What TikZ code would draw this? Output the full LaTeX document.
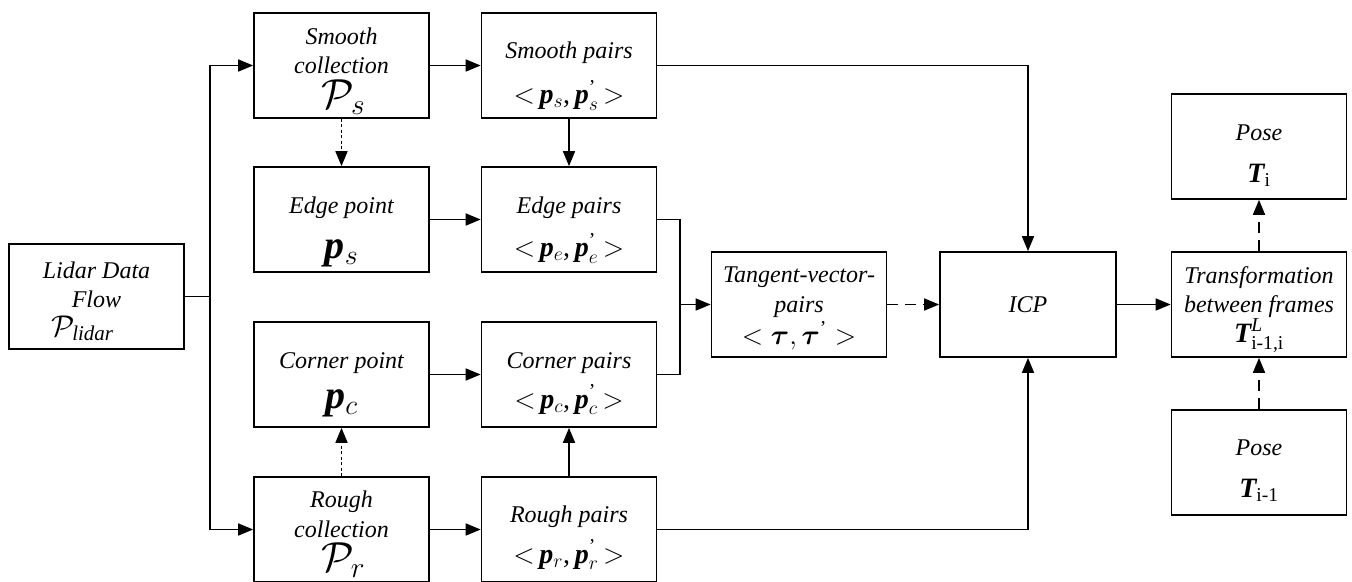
\RequirePackage{fix-cm}
\documentclass[tikz,border=0pt]{standalone}
\usepackage{amsmath,amssymb}
\usepackage{fontspec}
\setmainfont{Liberation Serif}
\usetikzlibrary{arrows.meta,calc}
\newcommand{\bpv}[1]{{\bfseries\itshape p}$_{#1}$}
\newcommand{\bpp}[1]{{\bfseries\itshape p}$^{\text{\upshape '}}_{#1}$}
\newcommand{\bT}{{\bfseries\itshape T}}
\tikzset{
  box/.style={draw, line width=1.7pt, minimum width=175pt, minimum height=105pt, inner sep=0pt},
  t/.style={anchor=base, inner sep=0pt, font=\fontsize{24}{29}\selectfont\itshape},
  pr/.style={anchor=base, inner sep=0pt, font=\fontsize{28}{30}\selectfont},
  big/.style={anchor=base, inner sep=0pt, font=\fontsize{40}{40}\selectfont},
  cal/.style={anchor=base, inner sep=0pt, font=\fontsize{42}{42}\selectfont},
  line/.style={line width=1.7pt},
  arr/.style={line width=1.7pt, -{Triangle[length=15pt,width=12pt]}},
  dotarr/.style={arr, dash pattern=on 3pt off 2.5pt},
  dasharr/.style={arr, dash pattern=on 11pt off 7pt}
}
\begin{document}
\begin{tikzpicture}[x=1pt,y=-1pt]
\useasboundingbox (0,0) rectangle (1352,581);
% boxes
\node[box] (lidar) at (96.5,296.5) {};
\node[box] (sc) at (341.5,65.5) {};
\node[box] (ept) at (341.5,219.5) {};
\node[box] (cpt) at (341.5,374.5) {};
\node[box] (rc) at (341.5,529.5) {};
\node[box] (sp) at (569,65.5) {};
\node[box] (epr) at (569,219.5) {};
\node[box] (cpr) at (569,374.5) {};
\node[box] (rp) at (569,529.5) {};
\node[box] (tg) at (799,304.5) {};
\node[box, minimum width=176pt] (icp) at (1028,304.5) {};
\node[box] (tf) at (1259,304.5) {};
\node[box] (pose1) at (1259,146.5) {};
\node[box] (pose0) at (1259,462.5) {};
% texts
\node[t] (lidar1) at ($(lidar)+(0,-18.5)$) {Lidar Data};
\node[t] (lidar2) at ($(lidar)+(0,10.5)$) {Flow};
\node[anchor=base, inner sep=0pt, font=\fontsize{30}{30}\selectfont] (lidar3) at ($(lidar)+(-14,39.5)$) {$\mathcal{P}_{\text{\itshape lidar}}$};

\node[t] (sc1) at ($(sc)+(0,-21.5)$) {Smooth};
\node[t] (sc2) at ($(sc)+(0,8)$) {collection};
\node[cal] (sc3) at ($(sc)+(2,43)$) {$\mathcal{P}_{s}$};

\node[t] (rc1) at ($(rc)+(0,-22.5)$) {Rough};
\node[t] (rc2) at ($(rc)+(0,7.5)$) {collection};
\node[cal] (rc3) at ($(rc)+(2,42)$) {$\mathcal{P}_{r}$};

\node[t] (ept1) at ($(ept)+(0,-6.5)$) {Edge point};
\node[big] (ept2) at ($(ept)+(0,38.5)$) {\bpv{s}};
\node[t] (cpt1) at ($(cpt)+(0,-6.5)$) {Corner point};
\node[big] (cpt2) at ($(cpt)+(0,33.5)$) {\bpv{c}};

\node[t] (sp1) at ($(sp)+(0,-7.5)$) {Smooth pairs};
\node[pr] (sp2) at ($(sp)+(0,38)$) {$<$\,\bpv{s},\,\bpp{s}\,$>$};
\node[t] (epr1) at ($(epr)+(0,-6.5)$) {Edge pairs};
\node[pr] (epr2) at ($(epr)+(0,37)$) {$<$\,\bpv{e},\,\bpp{e}\,$>$};
\node[t] (cpr1) at ($(cpr)+(0,-6.5)$) {Corner pairs};
\node[pr] (cpr2) at ($(cpr)+(0,33.5)$) {$<$\,\bpv{c},\,\bpp{c}\,$>$};
\node[t] (rp1) at ($(rp)+(0,-7.5)$) {Rough pairs};
\node[pr] (rp2) at ($(rp)+(0,33.5)$) {$<$\,\bpv{r},\,\bpp{r}\,$>$};

\node[t] (tg1) at ($(tg)+(0,-22.5)$) {Tangent-vector-};
\node[t] (tg2) at ($(tg)+(0,7.5)$) {pairs};
\node[pr] (tg3) at ($(tg)+(0,40)$) {$<\boldsymbol{\tau},\boldsymbol{\tau}^{\text{\upshape '}}>$};

\node[t] (icp1) at ($(icp)+(0,7.5)$) {ICP};

\node[t] (tf1) at ($(tf)+(0,-21.5)$) {Transformation};
\node[t] (tf2) at ($(tf)+(0,7.5)$) {between frames};
\node[pr] (tf3) at ($(tf)+(0,37.5)$) {\bT$^{\mathit{L}}_{\text{\upshape i-1,i}}$};

\node[t] (pose1a) at ($(pose1)+(0,-6.5)$) {Pose};
\node[pr] (pose1b) at ($(pose1)+(0,35.5)$) {\bT$_{\text{\upshape i}}$};
\node[t] (pose0a) at ($(pose0)+(0,-7.5)$) {Pose};
\node[pr] (pose0b) at ($(pose0)+(0,34.5)$) {\bT$_{\text{\upshape i-1}}$};

% connectors
\coordinate (j) at (210,296.5);
\draw[line] (lidar.east) -- (j);
\draw[arr] (j) |- (sc.west);
\draw[arr] (j) |- (rc.west);
\draw[arr] (sc.east) -- (sp.west);
\draw[arr] (rc.east) -- (rp.west);
\draw[dotarr] (sc.south) -- (ept.north);
\draw[dotarr] (rc.north) -- (cpt.south);
\draw[arr] (ept.east) -- (epr.west);
\draw[arr] (cpt.east) -- (cpr.west);
\draw[arr] (sp.south) -- (epr.north);
\draw[arr] (rp.north) -- (cpr.south);
\coordinate (m) at (680,304.5);
\draw[line] (epr.east) -| (m);
\draw[line] (cpr.east) -| (m);
\draw[arr] (m) -- (tg.west);
\draw[dasharr] (tg.east) -- (icp.west);
\draw[arr] (sp.east) -| (icp.north);
\draw[arr] (rp.east) -| (icp.south);
\draw[arr] (icp.east) -- (tf.west);
\draw[dasharr] (tf.north) -- (pose1.south);
\draw[dasharr] (pose0.north) -- (tf.south);
\end{tikzpicture}
\end{document}
